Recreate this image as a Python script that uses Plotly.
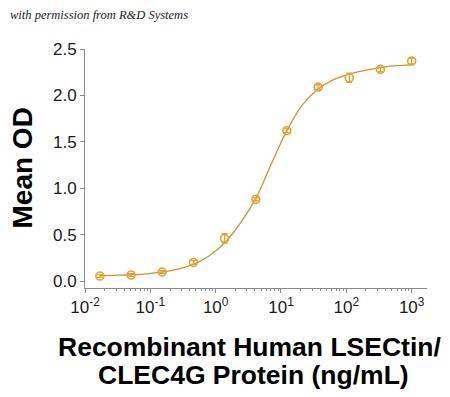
import plotly.graph_objects as go

# Data
conc = [0.0169, 0.0508, 0.152, 0.457, 1.37, 4.12, 12.3, 37.0, 111, 333, 1000]
mean_od = [0.054, 0.065, 0.097, 0.20, 0.46, 0.88, 1.62, 2.09, 2.19, 2.28, 2.37]
err_od = [0.015, 0.015, 0.015, 0.02, 0.05, 0.015, 0.02, 0.025, 0.05, 0.025, 0.03]

fit_x = [0.0169, 0.0293, 0.0508, 0.088, 0.152, 0.264, 0.457, 0.79, 1.37, 2.37,
         4.12, 7.1, 12.3, 21.4, 37.0, 64, 111, 192, 333, 577, 1000]
fit_y = [0.058, 0.062, 0.068, 0.078, 0.098, 0.128, 0.18, 0.27, 0.41, 0.62,
         0.89, 1.26, 1.62, 1.90, 2.07, 2.17, 2.23, 2.27, 2.30, 2.32, 2.33]

x_tickvals = [0.01, 0.1, 1, 10, 100, 1000]
x_ticktext = ["10<sup>-2</sup>", "10<sup>-1</sup>", "10<sup>0</sup>",
              "10<sup>1</sup>", "10<sup>2</sup>", "10<sup>3</sup>"]
y_tickvals = [0.0, 0.5, 1.0, 1.5, 2.0, 2.5]

line_col = "#C9962C"
mk_col = "#E8A030"
axis_col = "#8A8A8A"

fig = go.Figure()
fig.add_trace(go.Scatter(x=fit_x, y=fit_y, mode="lines",
                         line=dict(color=line_col, width=1.3, shape="spline"),
                         hoverinfo="skip", showlegend=False))
fig.add_trace(go.Scatter(x=conc, y=mean_od, mode="markers",
                         marker=dict(symbol="circle-open", size=8, color=mk_col,
                                     line=dict(width=1.6, color=mk_col)),
                         error_y=dict(type="data", array=err_od, color=mk_col,
                                      thickness=1.3, width=3),
                         showlegend=False))

bold = dict(color="black", family="Liberation Sans, Arial", weight="bold")

fig.update_layout(
    width=450, height=397,
    margin=dict(l=77, r=31, t=41, b=117),
    paper_bgcolor="white", plot_bgcolor="white",
    font=dict(family="Liberation Sans, Arial", color="#1a1a1a"),
    xaxis=dict(type="log", range=[-2, 3.235],
               tickvals=x_tickvals, ticktext=x_ticktext,
               tickfont=dict(size=17, color="#1a1a1a"),
               ticks="outside", ticklen=4, tickcolor=axis_col,
               showline=True, linecolor=axis_col, linewidth=1,
               showgrid=False, zeroline=False,
               minor=dict(ticks="outside", ticklen=2, tickcolor=axis_col,
                          dtick="D1", showgrid=False)),
    yaxis=dict(range=[-0.075, 2.5], tickvals=y_tickvals,
               ticktext=["0.0", "0.5", "1.0", "1.5", "2.0", "2.5"],
               tickfont=dict(size=17, color="#1a1a1a"),
               ticks="outside", ticklen=4, tickcolor=axis_col,
               showline=True, linecolor=axis_col, linewidth=1,
               showgrid=False, zeroline=False),
    annotations=[
        dict(text="Mean OD", xref="paper", yref="paper", x=0, y=0.5,
             xshift=-63, textangle=-90, showarrow=False,
             xanchor="center", yanchor="middle",
             font=dict(size=28, **bold)),
        dict(text="Recombinant Human LSECtin/", xref="paper", yref="paper",
             x=0.5, y=0, yshift=-59, xshift=-7, showarrow=False,
             xanchor="center", yanchor="middle",
             font=dict(size=26.5, **bold)),
        dict(text="CLEC4G Protein (ng/mL)", xref="paper", yref="paper",
             x=0.5, y=0, yshift=-87, xshift=-3, showarrow=False,
             xanchor="center", yanchor="middle",
             font=dict(size=26.5, **bold)),
        dict(text="with permission from R&amp;D Systems", xref="paper", yref="paper",
             x=0, y=1, xshift=-77, yshift=34, showarrow=False,
             xanchor="left", yanchor="middle",
             font=dict(size=12.5, color="#222", family="Liberation Serif", style="italic")),
    ],
)

fig.write_html("out.html")
